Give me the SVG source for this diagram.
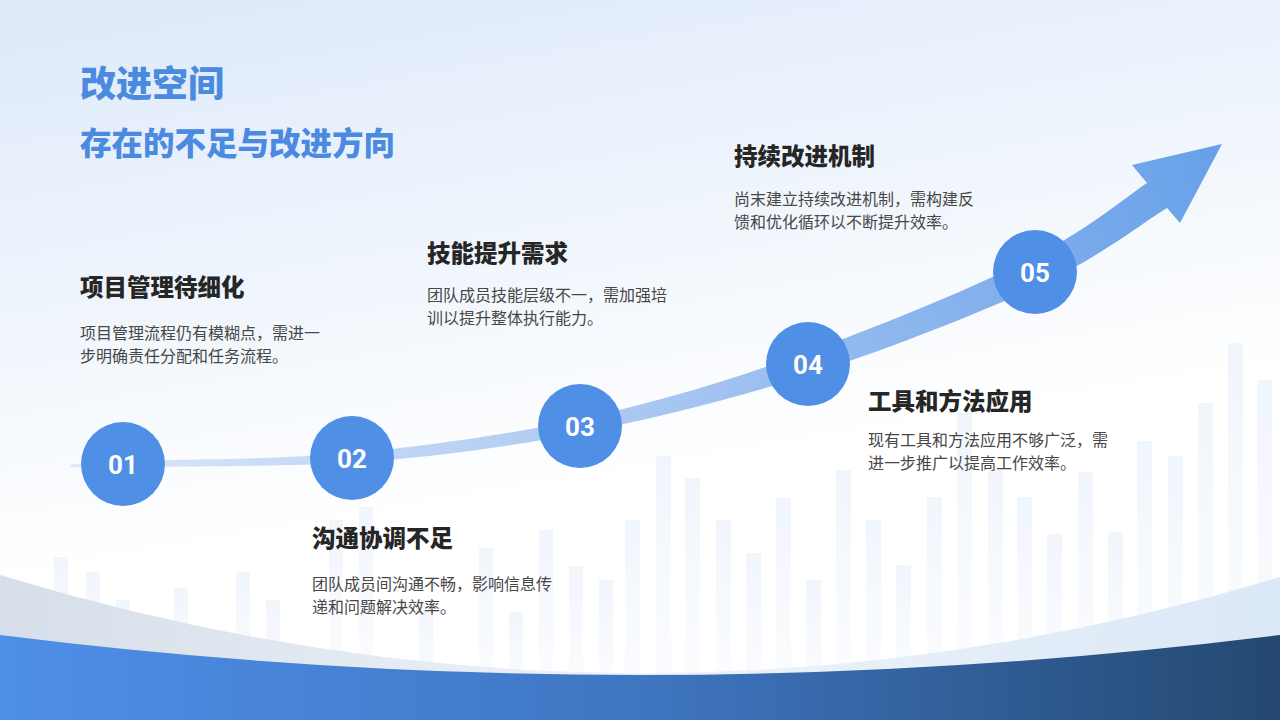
<svg xmlns="http://www.w3.org/2000/svg" width="1280" height="720" viewBox="0 0 1280 720">
<defs>
<linearGradient id="bg" x1="0" y1="0" x2="0.3" y2="1">
<stop offset="0" stop-color="#dde9f9"/>
<stop offset="0.75" stop-color="#ffffff"/>
</linearGradient>
<linearGradient id="barg" x1="0" y1="0" x2="0" y2="1">
<stop offset="0" stop-color="#edf3fc" stop-opacity="0.8"/>
<stop offset="1" stop-color="#f4f8fd" stop-opacity="0.4"/>
</linearGradient>
<linearGradient id="band" x1="0" y1="0" x2="1" y2="0">
<stop offset="0" stop-color="#d6dee9"/>
<stop offset="0.5" stop-color="#eef3f9"/>
<stop offset="1" stop-color="#dbe8f7"/>
</linearGradient>
<linearGradient id="blue" x1="0" y1="0" x2="1" y2="0">
<stop offset="0" stop-color="#4e8fe8"/>
<stop offset="0.5" stop-color="#3f76c2"/>
<stop offset="1" stop-color="#244870"/>
</linearGradient>
<linearGradient id="arrowg" gradientUnits="userSpaceOnUse" x1="70" y1="465" x2="1222" y2="144">
<stop offset="0" stop-color="#dce8f8"/>
<stop offset="0.5" stop-color="#a6c5f1"/>
<stop offset="1" stop-color="#67a0e8"/>
</linearGradient>
<style>
.t1{font-family:"Noto Sans CJK SC","Noto Sans",sans-serif;font-weight:900;fill:#4a8ae1}
.h{font-family:"Noto Sans CJK SC","Noto Sans",sans-serif;font-weight:900;font-size:23.5px;fill:#262626}
.b{font-family:"Noto Sans CJK SC","Noto Sans",sans-serif;font-size:16px;fill:#474747}
.c{fill:#4f8fe5}
.n{font-family:Roboto,"Liberation Sans",sans-serif;font-weight:700;font-size:26px;fill:#ffffff;text-anchor:middle}
.bar{fill:url(#barg)}
</style>
</defs>
<rect width="1280" height="720" fill="url(#bg)"/>
<g id="bars">
<rect class="bar" x="54" y="557" width="14" height="130"/>
<rect class="bar" x="86" y="572" width="14" height="120"/>
<rect class="bar" x="116" y="600" width="14" height="100"/>
<rect class="bar" x="174" y="588" width="14" height="100"/>
<rect class="bar" x="236" y="572" width="14" height="120"/>
<rect class="bar" x="266" y="600" width="14" height="100"/>
<rect class="bar" x="329" y="520" width="14" height="170"/>
<rect class="bar" x="359" y="507" width="14" height="180"/>
<rect class="bar" x="419" y="600" width="14" height="100"/>
<rect class="bar" x="479" y="548" width="14" height="140"/>
<rect class="bar" x="509" y="612" width="14" height="80"/>
<rect class="bar" x="539" y="530" width="14" height="160"/>
<rect class="bar" x="569" y="566" width="14" height="120"/>
<rect class="bar" x="599" y="580" width="14" height="110"/>
<rect class="bar" x="625" y="520" width="15" height="170"/>
<rect class="bar" x="656" y="456" width="15" height="230"/>
<rect class="bar" x="685" y="478" width="15" height="210"/>
<rect class="bar" x="716" y="520" width="15" height="170"/>
<rect class="bar" x="746" y="553" width="15" height="140"/>
<rect class="bar" x="776" y="498" width="15" height="190"/>
<rect class="bar" x="806" y="580" width="15" height="110"/>
<rect class="bar" x="836" y="470" width="15" height="220"/>
<rect class="bar" x="866" y="520" width="15" height="170"/>
<rect class="bar" x="896" y="565" width="15" height="120"/>
<rect class="bar" x="927" y="497" width="15" height="190"/>
<rect class="bar" x="957" y="413" width="15" height="270"/>
<rect class="bar" x="988" y="470" width="15" height="210"/>
<rect class="bar" x="1017" y="497" width="15" height="190"/>
<rect class="bar" x="1047" y="534" width="15" height="150"/>
<rect class="bar" x="1078" y="472" width="15" height="210"/>
<rect class="bar" x="1108" y="532" width="15" height="150"/>
<rect class="bar" x="1137" y="441" width="15" height="240"/>
<rect class="bar" x="1168" y="456" width="15" height="230"/>
<rect class="bar" x="1198" y="403" width="15" height="280"/>
<rect class="bar" x="1228" y="343" width="15" height="340"/>
<rect class="bar" x="1257" y="380" width="15" height="300"/>
</g>
<g id="wave">
<path d="M0,575 Q640,770 1280,577 L1280,720 L0,720 Z" fill="url(#band)"/>
<path d="M0,635 Q640,715 1280,635 L1280,720 L0,720 Z" fill="url(#blue)"/>
</g>
<g id="title">
<text class="t1" x="80" y="97" font-size="36">改进空间</text>
<text class="t1" x="80" y="155" font-size="31.5">存在的不足与改进方向</text>
</g>
<g id="connectors">
<path d="M70,464.8 L123,461 C170,459 275.8,460 352,453 C428.2,446 504.5,435.5 580,419 C655.5,402.5 730,380.5 805,353 C880,326 973,287.5 1030,259 C1087,230.5 1127.5,195.8 1147,183 L1132,165 L1222,144 L1180,223 L1167,208 C1145.8,220.7 1099.3,257.5 1040,285 C980.7,312.5 887.7,349.2 811,374 C734.3,398.8 656.5,418 580,433 C503.5,448 428.2,457.3 352,463 C275.8,466.5 170,466.3 123,467 L70,467.2 Z" fill="url(#arrowg)"/>
</g>
<g id="step01">
<circle class="c" cx="123" cy="464" r="42"/>
<text class="n" x="123" y="473.5">01</text>
<text class="h" x="80" y="296">项目管理待细化</text>
<text class="b" x="80" y="339">项目管理流程仍有模糊点，需进一</text>
<text class="b" x="80" y="362">步明确责任分配和任务流程。</text>
</g>
<g id="step02">
<circle class="c" cx="352" cy="458" r="42"/>
<text class="n" x="352" y="467.5">02</text>
<text class="h" x="312" y="547">沟通协调不足</text>
<text class="b" x="312" y="590">团队成员间沟通不畅，影响信息传</text>
<text class="b" x="312" y="613">递和问题解决效率。</text>
</g>
<g id="step03">
<circle class="c" cx="580" cy="426" r="42"/>
<text class="n" x="580" y="435.5">03</text>
<text class="h" x="427" y="262">技能提升需求</text>
<text class="b" x="427" y="301">团队成员技能层级不一，需加强培</text>
<text class="b" x="427" y="324">训以提升整体执行能力。</text>
</g>
<g id="step04">
<circle class="c" cx="808" cy="364" r="42"/>
<text class="n" x="808" y="373.5">04</text>
<text class="h" x="868" y="410">工具和方法应用</text>
<text class="b" x="868" y="446">现有工具和方法应用不够广泛，需</text>
<text class="b" x="868" y="469">进一步推广以提高工作效率。</text>
</g>
<g id="step05">
<circle class="c" cx="1035" cy="272" r="42"/>
<text class="n" x="1035" y="281.5">05</text>
<text class="h" x="734" y="165">持续改进机制</text>
<text class="b" x="734" y="205">尚末建立持续改进机制，需构建反</text>
<text class="b" x="734" y="228">馈和优化循环以不断提升效率。</text>
</g>
</svg>
